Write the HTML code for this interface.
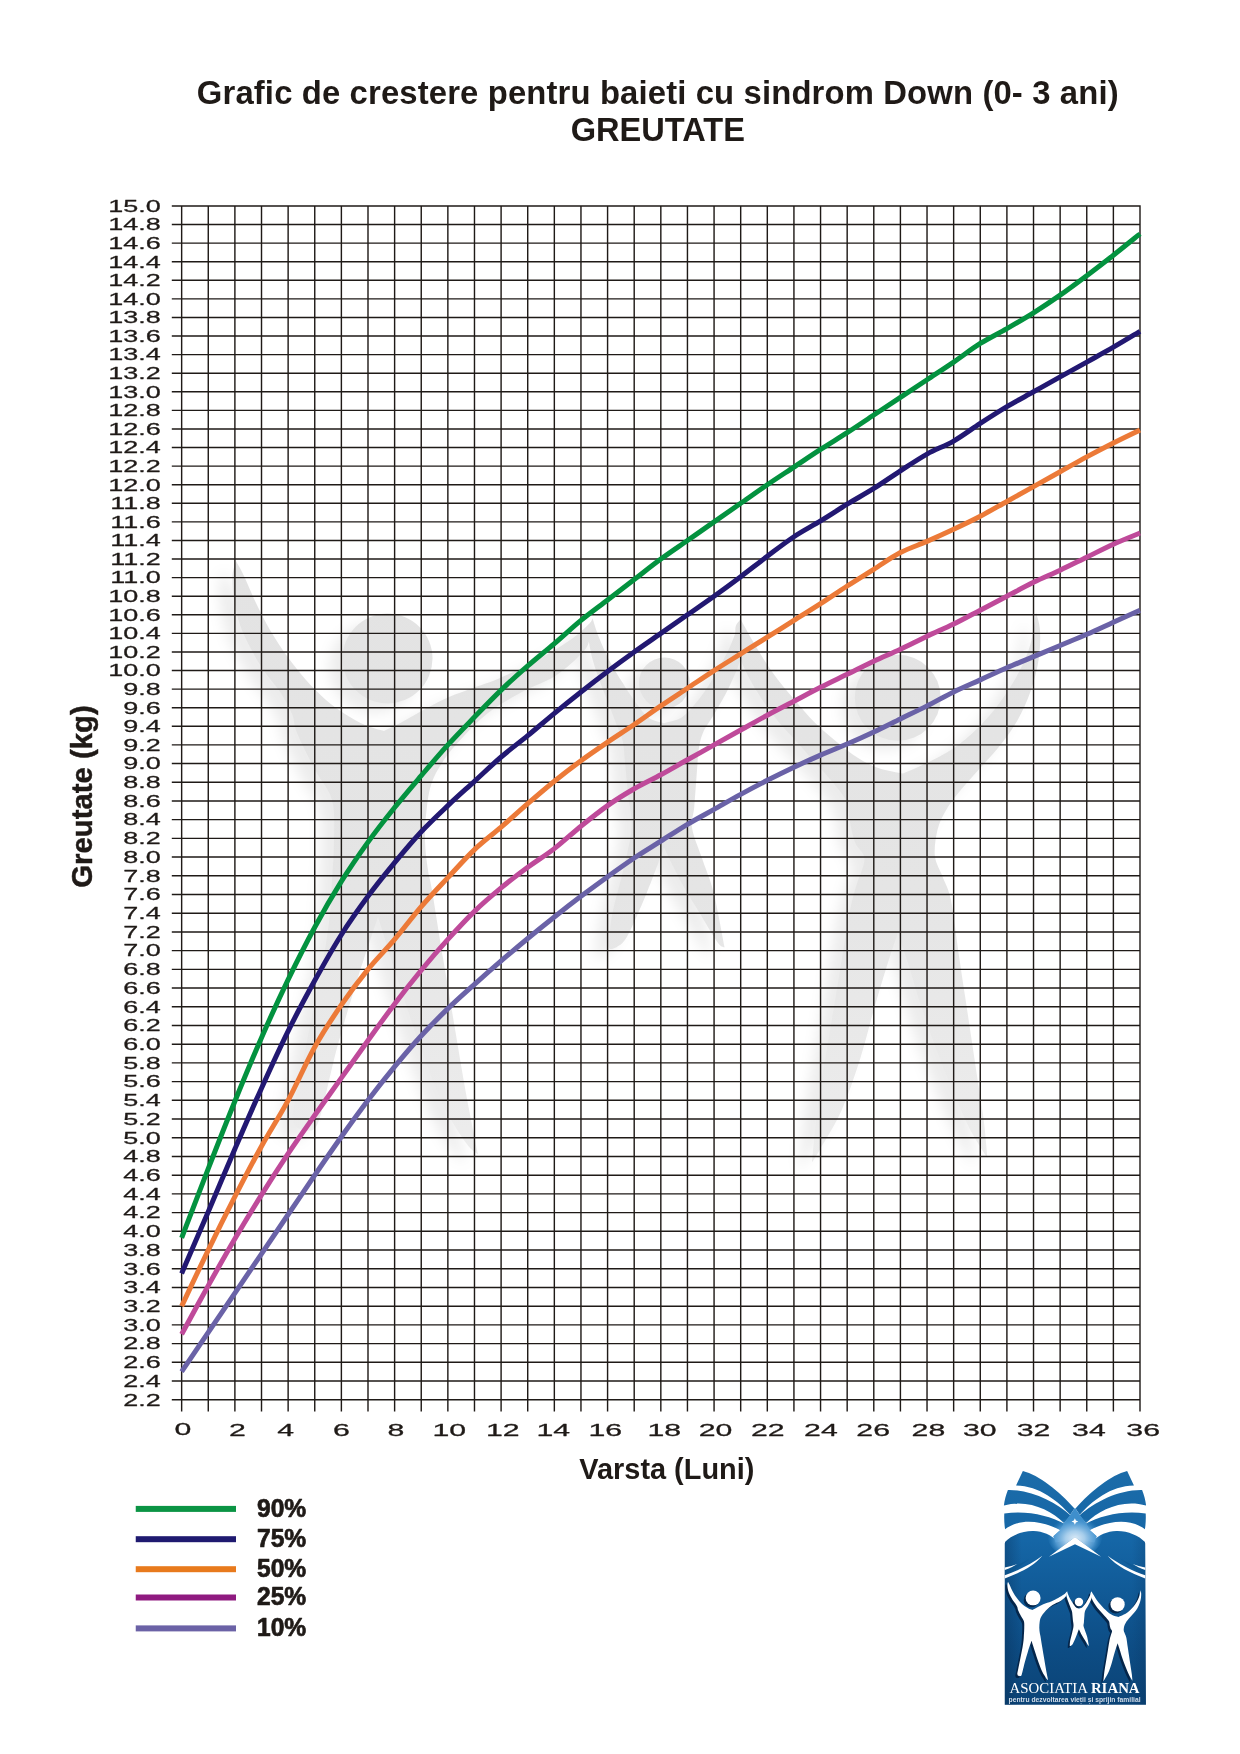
<!DOCTYPE html>
<html lang="ro">
<head>
<meta charset="utf-8">
<title>Grafic de crestere pentru baieti cu sindrom Down (0-3 ani) - GREUTATE</title>
<style>
html,body{margin:0;padding:0;background:#fff;}
body{width:1240px;height:1754px;overflow:hidden;font-family:"Liberation Sans",sans-serif;}
svg{display:block;position:absolute;left:0;top:0;will-change:transform;}
svg text{font-family:"Liberation Sans",sans-serif;fill:#1f1a17;}
.b{font-weight:bold;}
</style>
</head>
<body>
<svg width="1240" height="1754" viewBox="0 0 1240 1754">
<rect width="1240" height="1754" fill="#fff"/>
<!-- watermark figures -->
<defs>
<g id="figs">
<path d="M236.0 561.0C237.3 563.5 240.7 569.0 244.0 576.0C247.3 583.0 251.7 594.0 256.0 603.0C260.3 612.0 264.8 621.2 270.0 630.0C275.2 638.8 281.0 647.7 287.0 656.0C293.0 664.3 299.5 672.7 306.0 680.0C312.5 687.3 319.5 694.3 326.0 700.0C332.5 705.7 338.5 709.8 345.0 714.0C351.5 718.2 358.5 722.2 365.0 725.0C371.5 727.8 380.8 730.0 384.0 731.0C387.2 729.4 396.2 725.2 403.0 721.5C409.8 717.8 417.3 713.1 425.0 709.0C432.7 704.9 441.0 700.5 449.0 697.0C457.0 693.5 464.5 691.2 473.0 688.0C481.5 684.8 489.0 682.8 500.0 678.0C511.0 673.2 526.8 665.7 539.0 659.0C551.2 652.3 564.0 644.5 573.0 638.0C582.0 631.5 589.7 623.0 593.0 620.0C592.5 623.0 591.7 632.7 590.0 638.0C588.3 643.3 588.7 645.8 583.0 652.0C577.3 658.2 566.2 668.8 556.0 675.5C545.8 682.2 533.3 685.8 522.0 692.0C510.7 698.2 498.8 704.5 488.0 713.0C477.2 721.5 465.2 734.7 457.5 743.0C449.8 751.3 446.2 756.5 442.0 763.0C437.8 769.5 434.5 774.8 432.0 782.0C429.5 789.2 428.2 796.3 427.0 806.0C425.8 815.7 424.8 829.3 425.0 840.0C425.2 850.7 426.8 861.7 428.0 870.0C429.2 878.3 429.5 875.3 432.0 890.0C434.5 904.7 439.2 935.3 443.0 958.0C446.8 980.7 450.7 1003.4 454.5 1026.0C458.3 1048.6 462.1 1072.1 466.0 1093.5C469.9 1114.9 476.0 1144.3 478.0 1154.5C476.0 1152.6 471.8 1151.2 466.0 1143.0C460.2 1134.8 450.6 1120.8 443.0 1105.0C435.4 1089.2 428.1 1068.7 420.6 1048.0C413.1 1027.3 405.1 1002.4 398.0 980.6C390.9 958.8 381.3 927.6 378.0 917.0C374.5 927.6 363.8 958.8 357.0 980.6C350.2 1002.4 343.3 1024.7 337.0 1048.0C330.7 1071.3 323.8 1106.8 319.0 1120.6C314.2 1134.4 309.8 1129.3 308.0 1131.0C306.0 1130.3 298.7 1129.5 296.0 1127.0C293.3 1124.5 292.7 1117.8 292.0 1116.0C293.8 1106.7 299.2 1078.8 303.0 1060.0C306.8 1041.2 311.0 1020.5 314.5 1003.0C318.0 985.5 321.4 970.0 324.0 955.0C326.6 940.0 328.7 925.5 330.0 913.0C331.3 900.5 331.3 892.2 332.0 880.0C332.7 867.8 334.0 853.3 334.0 840.0C334.0 826.7 335.2 811.7 332.0 800.0C328.8 788.3 320.8 781.2 315.0 770.0C309.2 758.8 300.8 742.3 297.0 733.0C293.2 723.7 294.8 720.8 292.0 714.0C289.2 707.2 284.7 699.2 280.0 692.0C275.3 684.8 268.8 678.2 264.0 671.0C259.2 663.8 255.0 656.7 251.0 649.0C247.0 641.3 242.8 633.2 240.0 625.0C237.2 616.8 235.2 608.2 234.0 600.0C232.8 591.8 232.2 582.5 232.5 576.0C232.8 569.5 235.4 563.5 236.0 561.0Z"/>
<circle cx="387.5" cy="658.5" r="45"/>
<path d="M592.5 618.2C593.6 621.4 596.1 630.4 599.0 637.6C601.9 644.8 605.8 653.9 609.8 661.5C613.8 669.1 618.5 676.2 622.8 683.1C627.1 690.0 631.5 696.8 635.8 702.6C640.1 708.4 644.1 714.4 648.8 717.8C653.5 721.2 661.5 722.3 664.0 723.2C666.9 722.3 676.2 720.9 681.3 717.8C686.3 714.7 690.0 709.8 694.3 704.8C698.6 699.8 703.0 694.0 707.3 687.5C711.6 681.0 716.3 673.0 720.3 665.8C724.3 658.6 727.9 651.7 731.1 644.1C734.4 636.5 738.3 624.3 739.8 620.3C740.5 623.2 744.1 630.7 744.1 637.6C744.1 644.5 742.3 653.2 739.8 661.5C737.3 669.8 732.9 679.2 728.9 687.5C724.9 695.8 720.2 703.7 715.9 711.3C711.6 718.9 705.8 726.4 702.9 732.9C700.0 739.4 699.5 745.2 698.6 750.3C697.7 755.4 698.2 753.9 697.5 763.3C696.8 772.7 695.2 795.8 694.3 806.6C693.4 817.4 690.7 819.2 692.1 828.2C693.5 837.2 699.3 849.9 702.9 860.7C706.5 871.5 710.2 878.8 713.8 893.2C717.4 907.7 722.8 938.4 724.6 947.4C723.5 946.7 722.0 948.4 718.0 943.0C714.0 937.6 706.9 925.0 700.8 914.9C694.7 904.8 687.4 893.6 681.3 882.4C675.2 871.2 666.9 853.5 664.0 847.7C661.1 855.3 652.8 878.4 646.6 893.2C640.5 908.0 632.2 927.5 627.1 936.5C622.0 945.5 618.1 945.6 616.3 947.4C615.2 947.7 611.3 949.4 610.0 949.0C608.7 948.6 608.9 945.8 608.7 945.2C609.2 940.2 609.6 927.2 612.0 914.9C614.4 902.6 619.5 886.0 622.8 871.6C626.0 857.2 630.6 841.0 631.5 828.2C632.4 815.4 629.1 805.8 628.0 795.0C626.9 784.2 625.9 772.2 625.0 763.3C624.1 754.4 624.2 748.1 622.8 741.6C621.3 735.1 618.5 730.1 616.3 724.3C614.1 718.5 612.3 713.5 609.8 707.0C607.3 700.5 604.1 693.2 601.2 685.3C598.3 677.3 594.7 668.0 592.5 659.3C590.3 650.6 588.2 640.1 588.2 633.3C588.2 626.4 591.8 620.7 592.5 618.2Z"/>
<circle cx="664.4" cy="683.1" r="25.5"/>
<path d="M740.6 619.3C742.8 623.3 748.7 634.3 754.0 643.2C759.3 652.1 766.0 663.2 772.6 672.5C779.2 681.8 786.8 690.7 793.9 699.1C801.0 707.5 808.1 716.0 815.2 723.1C822.3 730.2 829.4 735.9 836.5 741.7C843.6 747.5 850.6 753.3 857.7 757.7C864.8 762.1 871.5 765.6 879.0 768.3C886.5 770.9 899.0 772.7 903.0 773.6C907.9 771.4 923.0 765.2 932.3 760.3C941.6 755.4 950.5 750.6 958.9 744.4C967.3 738.2 975.3 731.1 982.8 723.1C990.3 715.1 997.9 705.4 1004.1 696.5C1010.3 687.6 1015.7 678.7 1020.1 669.8C1024.5 660.9 1028.0 652.7 1030.7 643.2C1033.4 633.7 1035.1 617.7 1036.0 612.6C1036.7 615.5 1039.5 622.1 1040.0 629.9C1040.5 637.7 1040.2 649.0 1038.7 659.2C1037.2 669.4 1034.2 680.9 1030.7 691.1C1027.2 701.3 1022.7 711.1 1017.4 720.4C1012.1 729.7 1005.4 738.6 998.8 747.0C992.1 755.4 984.1 763.5 977.5 771.0C970.9 778.5 964.2 785.6 958.9 792.3C953.6 798.9 949.1 804.7 945.6 810.9C942.1 817.1 939.4 822.0 937.6 829.5C935.8 837.0 934.0 848.1 934.9 856.1C935.8 864.1 940.2 870.1 942.9 877.4C945.6 884.7 948.3 887.2 950.9 900.0C953.5 912.8 956.4 937.9 958.7 953.9C961.1 969.9 962.9 981.8 965.0 995.8C967.1 1009.8 969.2 1023.8 971.3 1037.8C973.4 1051.8 975.5 1065.7 977.6 1079.7C979.7 1093.7 982.3 1108.5 983.9 1121.6C985.5 1134.7 986.8 1152.2 987.4 1158.3C984.4 1153.2 975.0 1139.2 969.2 1127.9C963.4 1116.6 958.0 1103.5 952.4 1090.2C946.8 1076.9 940.9 1062.2 935.7 1048.2C930.5 1034.2 925.5 1020.3 921.0 1006.3C916.5 992.3 912.2 976.6 908.4 964.4C904.5 952.2 899.6 938.1 897.9 932.9C896.1 938.1 891.2 952.2 887.4 964.4C883.5 976.6 879.3 990.6 874.8 1006.3C870.3 1022.0 865.8 1041.2 860.2 1058.7C854.6 1076.2 847.9 1096.1 841.3 1111.1C834.6 1126.1 825.2 1140.3 820.3 1148.9C815.4 1157.5 813.3 1160.2 811.9 1162.5C813.0 1152.2 815.4 1121.5 818.2 1100.7C821.0 1079.9 825.2 1058.8 828.7 1037.8C832.2 1016.8 835.7 995.8 839.2 974.8C842.7 953.8 846.8 926.9 849.7 911.9C852.6 896.9 854.0 893.9 856.5 885.0C859.0 876.1 864.6 865.8 864.4 858.8C864.2 851.8 857.5 849.0 855.1 842.8C852.7 836.6 851.1 828.1 849.8 821.5C848.5 814.9 849.3 808.7 847.1 802.9C844.9 797.1 841.4 793.1 836.5 786.9C831.6 780.7 824.5 773.1 817.8 765.6C811.1 758.1 803.6 749.7 796.5 741.7C789.4 733.7 781.9 726.1 775.2 717.7C768.6 709.3 762.4 700.9 756.6 691.1C750.8 681.4 744.2 669.4 740.6 659.2C737.0 649.0 735.3 636.5 735.3 629.9C735.3 623.2 739.7 621.1 740.6 619.3Z"/>
<circle cx="897.7" cy="697.8" r="43"/>
</g>
<linearGradient id="wmfade" gradientUnits="userSpaceOnUse" x1="0" y1="560" x2="0" y2="1165"><stop offset="0" stop-color="#e3e3e3"/><stop offset="0.55" stop-color="#e5e5e5"/><stop offset="1" stop-color="#ededed"/></linearGradient>
<filter id="wmshadow" x="150" y="500" width="960" height="720" filterUnits="userSpaceOnUse" color-interpolation-filters="sRGB"><feGaussianBlur in="SourceAlpha" stdDeviation="6.5"/><feOffset dx="-13" dy="9" result="b"/><feFlood flood-color="#000" flood-opacity="0.075"/><feComposite in2="b" operator="in"/><feMerge><feMergeNode/><feMergeNode in="SourceGraphic"/></feMerge></filter>
</defs>
<use href="#figs" fill="url(#wmfade)" filter="url(#wmshadow)"/>
<!-- grid -->
<path d="M171.8 205.95H1140.65M171.8 224.53H1140.65M171.8 243.12H1140.65M171.8 261.70H1140.65M171.8 280.29H1140.65M171.8 298.88H1140.65M171.8 317.46H1140.65M171.8 336.04H1140.65M171.8 354.63H1140.65M171.8 373.22H1140.65M171.8 391.80H1140.65M171.8 410.38H1140.65M171.8 428.97H1140.65M171.8 447.56H1140.65M171.8 466.14H1140.65M171.8 484.73H1140.65M171.8 503.31H1140.65M171.8 521.89H1140.65M171.8 540.48H1140.65M171.8 559.07H1140.65M171.8 577.65H1140.65M171.8 596.24H1140.65M171.8 614.82H1140.65M171.8 633.40H1140.65M171.8 651.99H1140.65M171.8 670.58H1140.65M171.8 689.16H1140.65M171.8 707.75H1140.65M171.8 726.33H1140.65M171.8 744.91H1140.65M171.8 763.50H1140.65M171.8 782.21H1140.65M171.8 800.93H1140.65M171.8 819.64H1140.65M171.8 838.35H1140.65M171.8 857.07H1140.65M171.8 875.78H1140.65M171.8 894.49H1140.65M171.8 913.20H1140.65M171.8 931.92H1140.65M171.8 950.63H1140.65M171.8 969.34H1140.65M171.8 988.06H1140.65M171.8 1006.77H1140.65M171.8 1025.48H1140.65M171.8 1044.19H1140.65M171.8 1062.91H1140.65M171.8 1081.62H1140.65M171.8 1100.33H1140.65M171.8 1119.05H1140.65M171.8 1137.76H1140.65M171.8 1156.47H1140.65M171.8 1175.19H1140.65M171.8 1193.90H1140.65M171.8 1212.61H1140.65M171.8 1231.33H1140.65M171.8 1250.04H1140.65M171.8 1268.75H1140.65M171.8 1287.46H1140.65M171.8 1306.18H1140.65M171.8 1324.89H1140.65M171.8 1343.60H1140.65M171.8 1362.32H1140.65M171.8 1381.03H1140.65M171.8 1399.74H1140.65M181.65 205.30V1411.6M208.27 205.30V1411.6M234.89 205.30V1411.6M261.51 205.30V1411.6M288.13 205.30V1411.6M314.75 205.30V1411.6M341.38 205.30V1411.6M368.00 205.30V1411.6M394.62 205.30V1411.6M421.24 205.30V1411.6M447.86 205.30V1411.6M474.48 205.30V1411.6M501.10 205.30V1411.6M527.72 205.30V1411.6M554.34 205.30V1411.6M580.96 205.30V1411.6M607.58 205.30V1411.6M634.20 205.30V1411.6M660.83 205.30V1411.6M687.45 205.30V1411.6M714.07 205.30V1411.6M740.69 205.30V1411.6M767.31 205.30V1411.6M793.93 205.30V1411.6M820.55 205.30V1411.6M847.17 205.30V1411.6M873.79 205.30V1411.6M900.41 205.30V1411.6M927.03 205.30V1411.6M953.65 205.30V1411.6M980.27 205.30V1411.6M1006.90 205.30V1411.6M1033.52 205.30V1411.6M1060.14 205.30V1411.6M1086.76 205.30V1411.6M1113.38 205.30V1411.6M1140.00 205.30V1411.6" fill="none" stroke="#1f1a17" stroke-width="1.42"/>
<!-- percentile curves -->
<g fill="none" stroke-width="5.0" stroke-linecap="butt" stroke-linejoin="round">
<path d="M181.65 1371.67C186.09 1365.12 199.40 1345.47 208.27 1332.38C217.14 1319.28 226.02 1306.18 234.89 1293.08C243.77 1279.98 252.64 1266.88 261.51 1253.78C270.39 1240.68 279.26 1227.58 288.13 1214.48C297.01 1201.38 305.88 1188.13 314.75 1175.19C323.63 1162.24 332.50 1149.30 341.38 1136.82C350.25 1124.35 359.12 1112.03 368.00 1100.33C376.87 1088.64 385.74 1077.41 394.62 1066.65C403.49 1055.89 412.36 1045.44 421.24 1035.77C430.11 1026.11 438.98 1017.22 447.86 1008.64C456.73 1000.06 465.61 992.27 474.48 984.31C483.35 976.36 492.23 968.56 501.10 960.92C509.97 953.28 518.85 945.80 527.72 938.47C536.59 931.14 545.47 923.96 554.34 916.95C563.22 909.93 572.09 903.07 580.96 896.36C589.84 889.66 598.71 883.11 607.58 876.71C616.46 870.32 625.33 863.93 634.20 858.00C643.08 852.07 651.95 846.77 660.83 841.16C669.70 835.55 678.57 829.62 687.45 824.32C696.32 819.02 705.19 814.34 714.07 809.35C722.94 804.36 731.81 799.21 740.69 794.38C749.56 789.54 758.43 784.86 767.31 780.34C776.18 775.82 785.06 771.44 793.93 767.24C802.80 763.04 811.68 759.01 820.55 755.14C829.42 751.26 838.30 747.86 847.17 743.99C856.04 740.11 864.92 736.09 873.79 731.91C882.67 727.72 891.54 723.23 900.41 718.90C909.29 714.56 918.16 710.38 927.03 705.89C935.91 701.40 944.78 696.28 953.65 691.95C962.53 687.61 971.40 683.89 980.27 679.87C989.15 675.84 998.02 671.66 1006.90 667.79C1015.77 663.92 1024.64 660.35 1033.52 656.64C1042.39 652.92 1051.26 649.20 1060.14 645.49C1069.01 641.77 1077.88 638.21 1086.76 634.33C1095.63 630.46 1104.51 626.28 1113.38 622.25C1122.25 618.23 1135.56 612.19 1140.00 610.17" stroke="#6a62a7"/>
<path d="M181.65 1334.25C186.09 1326.14 199.40 1301.50 208.27 1285.59C217.14 1269.69 226.02 1253.94 234.89 1238.81C243.77 1223.68 252.64 1209.03 261.51 1194.83C270.39 1180.64 279.26 1166.92 288.13 1153.67C297.01 1140.41 305.88 1127.94 314.75 1115.30C323.63 1102.67 332.50 1090.35 341.38 1077.88C350.25 1065.40 359.12 1052.77 368.00 1040.45C376.87 1028.13 385.74 1015.66 394.62 1003.96C403.49 992.27 412.36 981.04 421.24 970.28C430.11 959.52 438.98 949.23 447.86 939.40C456.73 929.58 465.61 919.91 474.48 911.33C483.35 902.76 492.23 895.27 501.10 887.94C509.97 880.61 518.85 873.91 527.72 867.36C536.59 860.81 545.47 855.51 554.34 848.64C563.22 841.78 572.09 833.36 580.96 826.19C589.84 819.02 598.71 811.84 607.58 805.60C616.46 799.37 625.33 793.91 634.20 788.76C643.08 783.62 651.95 779.56 660.83 774.73C669.70 769.90 678.57 764.75 687.45 759.78C696.32 754.81 705.19 749.87 714.07 744.92C722.94 739.96 731.81 735.00 740.69 730.05C749.56 725.09 758.43 719.98 767.31 715.18C776.18 710.38 785.06 705.89 793.93 701.24C802.80 696.59 811.68 691.79 820.55 687.30C829.42 682.81 838.30 678.63 847.17 674.29C856.04 669.96 864.92 665.46 873.79 661.28C882.67 657.10 891.54 653.38 900.41 649.20C909.29 645.02 918.16 640.37 927.03 636.19C935.91 632.01 944.78 628.45 953.65 624.11C962.53 619.78 971.40 614.82 980.27 610.17C989.15 605.53 998.02 600.88 1006.90 596.23C1015.77 591.59 1024.64 586.63 1033.52 582.30C1042.39 577.96 1051.26 574.40 1060.14 570.22C1069.01 566.03 1077.88 561.54 1086.76 557.21C1095.63 552.87 1104.51 548.22 1113.38 544.20C1122.25 540.17 1135.56 534.90 1140.00 533.05" stroke="#bf4a9a"/>
<path d="M181.65 1306.18C186.09 1296.82 199.40 1268.28 208.27 1250.04C217.14 1231.79 226.02 1214.02 234.89 1196.71C243.77 1179.40 252.64 1162.24 261.51 1146.18C270.39 1130.12 279.26 1116.86 288.13 1100.33C297.01 1083.80 305.88 1062.91 314.75 1047.00C323.63 1031.10 332.50 1017.84 341.38 1004.90C350.25 991.95 359.12 980.26 368.00 969.34C376.87 958.43 385.74 949.85 394.62 939.40C403.49 928.95 412.36 916.95 421.24 906.65C430.11 896.36 438.98 887.16 447.86 877.65C456.73 868.14 465.61 858.00 474.48 849.58C483.35 841.16 492.23 834.77 501.10 827.12C509.97 819.48 518.85 811.37 527.72 803.73C536.59 796.09 545.47 788.45 554.34 781.28C563.22 774.11 572.09 767.24 580.96 760.71C589.84 754.19 598.71 748.17 607.58 742.13C616.46 736.09 625.33 730.51 634.20 724.47C643.08 718.43 651.95 711.93 660.83 705.89C669.70 699.85 678.57 694.12 687.45 688.23C696.32 682.35 705.19 676.31 714.07 670.58C722.94 664.84 731.81 659.42 740.69 653.85C749.56 648.27 758.43 642.70 767.31 637.12C776.18 631.55 785.06 625.97 793.93 620.40C802.80 614.82 811.68 609.40 820.55 603.67C829.42 597.94 838.30 591.74 847.17 586.01C856.04 580.28 864.92 574.86 873.79 569.29C882.67 563.71 891.54 557.21 900.41 552.56C909.29 547.91 918.16 545.28 927.03 541.41C935.91 537.54 944.78 533.51 953.65 529.33C962.53 525.15 971.40 520.97 980.27 516.32C989.15 511.67 998.02 506.41 1006.90 501.45C1015.77 496.50 1024.64 491.54 1033.52 486.58C1042.39 481.63 1051.26 476.67 1060.14 471.72C1069.01 466.76 1077.88 461.65 1086.76 456.85C1095.63 452.05 1104.51 447.40 1113.38 442.91C1122.25 438.42 1135.56 432.07 1140.00 429.90" stroke="#ec7a38"/>
<path d="M181.65 1273.43C186.09 1263.14 199.40 1232.42 208.27 1211.68C217.14 1190.94 226.02 1169.57 234.89 1148.99C243.77 1128.40 252.64 1107.82 261.51 1088.17C270.39 1068.52 279.26 1049.03 288.13 1031.10C297.01 1013.16 305.88 996.63 314.75 980.57C323.63 964.51 332.50 948.76 341.38 934.72C350.25 920.69 359.12 908.37 368.00 896.36C376.87 884.35 385.74 873.44 394.62 862.68C403.49 851.92 412.36 841.31 421.24 831.80C430.11 822.29 438.98 814.03 447.86 805.60C456.73 797.18 465.61 789.38 474.48 781.28C483.35 773.18 492.23 764.60 501.10 757.00C509.97 749.39 518.85 742.90 527.72 735.62C536.59 728.34 545.47 720.60 554.34 713.32C563.22 706.04 572.09 698.92 580.96 691.95C589.84 684.98 598.71 678.16 607.58 671.50C616.46 664.84 625.33 658.34 634.20 651.99C643.08 645.64 651.95 639.60 660.83 633.40C669.70 627.21 678.57 621.01 687.45 614.82C696.32 608.62 705.19 602.58 714.07 596.23C722.94 589.89 731.81 583.38 740.69 576.72C749.56 570.06 758.43 562.94 767.31 556.28C776.18 549.62 785.06 542.65 793.93 536.76C802.80 530.88 811.68 526.39 820.55 520.97C829.42 515.55 838.30 509.66 847.17 504.24C856.04 498.82 864.92 494.02 873.79 488.44C882.67 482.87 891.54 476.52 900.41 470.79C909.29 465.06 918.16 459.02 927.03 454.06C935.91 449.10 944.78 446.16 953.65 441.05C962.53 435.94 971.40 429.12 980.27 423.39C989.15 417.66 998.02 411.93 1006.90 406.67C1015.77 401.40 1024.64 396.76 1033.52 391.80C1042.39 386.84 1051.26 381.89 1060.14 376.93C1069.01 371.98 1077.88 367.02 1086.76 362.06C1095.63 357.11 1104.51 352.31 1113.38 347.20C1122.25 342.09 1135.56 334.03 1140.00 331.40" stroke="#221872"/>
<path d="M181.65 1237.87C186.09 1226.33 199.40 1191.40 208.27 1168.64C217.14 1145.87 226.02 1123.10 234.89 1101.27C243.77 1079.44 252.64 1057.92 261.51 1037.65C270.39 1017.37 279.26 998.04 288.13 979.64C297.01 961.23 305.88 943.61 314.75 927.24C323.63 910.86 332.50 895.58 341.38 881.39C350.25 867.20 359.12 854.41 368.00 842.09C376.87 829.78 385.74 818.55 394.62 807.48C403.49 796.40 412.36 786.09 421.24 775.66C430.11 765.24 438.98 754.69 447.86 744.92C456.73 735.14 465.61 726.18 474.48 717.04C483.35 707.90 492.23 698.61 501.10 690.09C509.97 681.57 518.85 673.67 527.72 665.93C536.59 658.18 545.47 651.22 554.34 643.63C563.22 636.04 572.09 627.67 580.96 620.40C589.84 613.12 598.71 606.77 607.58 599.95C616.46 593.14 625.33 586.32 634.20 579.51C643.08 572.69 651.95 565.57 660.83 559.07C669.70 552.56 678.57 546.68 687.45 540.48C696.32 534.28 705.19 528.09 714.07 521.89C722.94 515.70 731.81 509.50 740.69 503.31C749.56 497.11 758.43 490.77 767.31 484.73C776.18 478.68 785.06 472.95 793.93 467.07C802.80 461.18 811.68 455.14 820.55 449.41C829.42 443.68 838.30 438.42 847.17 432.69C856.04 426.96 864.92 420.92 873.79 415.03C882.67 409.15 891.54 403.26 900.41 397.38C909.29 391.49 918.16 385.60 927.03 379.72C935.91 373.83 944.78 368.10 953.65 362.06C962.53 356.02 971.40 349.05 980.27 343.48C989.15 337.90 998.02 333.72 1006.90 328.61C1015.77 323.50 1024.64 318.39 1033.52 312.81C1042.39 307.24 1051.26 301.35 1060.14 295.16C1069.01 288.96 1077.88 282.30 1086.76 275.64C1095.63 268.98 1104.51 262.17 1113.38 255.20C1122.25 248.23 1135.56 237.39 1140.00 233.83" stroke="#03923f"/>
</g>
<!-- y axis tick labels -->
<g font-size="17.2" text-anchor="end" stroke="#1f1a17" stroke-width="0.28" stroke-linejoin="round">
<text transform="translate(160.80 211.75) scale(1.57 1)">15.0</text>
<text transform="translate(160.80 230.34) scale(1.57 1)">14.8</text>
<text transform="translate(160.80 248.92) scale(1.57 1)">14.6</text>
<text transform="translate(160.80 267.50) scale(1.57 1)">14.4</text>
<text transform="translate(160.80 286.09) scale(1.57 1)">14.2</text>
<text transform="translate(160.80 304.68) scale(1.57 1)">14.0</text>
<text transform="translate(160.80 323.26) scale(1.57 1)">13.8</text>
<text transform="translate(160.80 341.84) scale(1.57 1)">13.6</text>
<text transform="translate(160.80 360.43) scale(1.57 1)">13.4</text>
<text transform="translate(160.80 379.02) scale(1.57 1)">13.2</text>
<text transform="translate(160.80 397.60) scale(1.57 1)">13.0</text>
<text transform="translate(160.80 416.19) scale(1.57 1)">12.8</text>
<text transform="translate(160.80 434.77) scale(1.57 1)">12.6</text>
<text transform="translate(160.80 453.36) scale(1.57 1)">12.4</text>
<text transform="translate(160.80 471.94) scale(1.57 1)">12.2</text>
<text transform="translate(160.80 490.53) scale(1.57 1)">12.0</text>
<text transform="translate(160.80 509.11) scale(1.57 1)">11.8</text>
<text transform="translate(160.80 527.69) scale(1.57 1)">11.6</text>
<text transform="translate(160.80 546.28) scale(1.57 1)">11.4</text>
<text transform="translate(160.80 564.87) scale(1.57 1)">11.2</text>
<text transform="translate(160.80 583.45) scale(1.57 1)">11.0</text>
<text transform="translate(160.80 602.03) scale(1.57 1)">10.8</text>
<text transform="translate(160.80 620.62) scale(1.57 1)">10.6</text>
<text transform="translate(160.80 639.20) scale(1.57 1)">10.4</text>
<text transform="translate(160.80 657.79) scale(1.57 1)">10.2</text>
<text transform="translate(160.80 676.38) scale(1.57 1)">10.0</text>
<text transform="translate(160.80 694.96) scale(1.57 1)">9.8</text>
<text transform="translate(160.80 713.54) scale(1.57 1)">9.6</text>
<text transform="translate(160.80 732.13) scale(1.57 1)">9.4</text>
<text transform="translate(160.80 750.71) scale(1.57 1)">9.2</text>
<text transform="translate(160.80 769.30) scale(1.57 1)">9.0</text>
<text transform="translate(160.80 788.01) scale(1.57 1)">8.8</text>
<text transform="translate(160.80 806.73) scale(1.57 1)">8.6</text>
<text transform="translate(160.80 825.44) scale(1.57 1)">8.4</text>
<text transform="translate(160.80 844.15) scale(1.57 1)">8.2</text>
<text transform="translate(160.80 862.87) scale(1.57 1)">8.0</text>
<text transform="translate(160.80 881.58) scale(1.57 1)">7.8</text>
<text transform="translate(160.80 900.29) scale(1.57 1)">7.6</text>
<text transform="translate(160.80 919.00) scale(1.57 1)">7.4</text>
<text transform="translate(160.80 937.72) scale(1.57 1)">7.2</text>
<text transform="translate(160.80 956.43) scale(1.57 1)">7.0</text>
<text transform="translate(160.80 975.14) scale(1.57 1)">6.8</text>
<text transform="translate(160.80 993.86) scale(1.57 1)">6.6</text>
<text transform="translate(160.80 1012.57) scale(1.57 1)">6.4</text>
<text transform="translate(160.80 1031.28) scale(1.57 1)">6.2</text>
<text transform="translate(160.80 1049.99) scale(1.57 1)">6.0</text>
<text transform="translate(160.80 1068.71) scale(1.57 1)">5.8</text>
<text transform="translate(160.80 1087.42) scale(1.57 1)">5.6</text>
<text transform="translate(160.80 1106.13) scale(1.57 1)">5.4</text>
<text transform="translate(160.80 1124.85) scale(1.57 1)">5.2</text>
<text transform="translate(160.80 1143.56) scale(1.57 1)">5.0</text>
<text transform="translate(160.80 1162.27) scale(1.57 1)">4.8</text>
<text transform="translate(160.80 1180.99) scale(1.57 1)">4.6</text>
<text transform="translate(160.80 1199.70) scale(1.57 1)">4.4</text>
<text transform="translate(160.80 1218.41) scale(1.57 1)">4.2</text>
<text transform="translate(160.80 1237.12) scale(1.57 1)">4.0</text>
<text transform="translate(160.80 1255.84) scale(1.57 1)">3.8</text>
<text transform="translate(160.80 1274.55) scale(1.57 1)">3.6</text>
<text transform="translate(160.80 1293.26) scale(1.57 1)">3.4</text>
<text transform="translate(160.80 1311.98) scale(1.57 1)">3.2</text>
<text transform="translate(160.80 1330.69) scale(1.57 1)">3.0</text>
<text transform="translate(160.80 1349.40) scale(1.57 1)">2.8</text>
<text transform="translate(160.80 1368.12) scale(1.57 1)">2.6</text>
<text transform="translate(160.80 1386.83) scale(1.57 1)">2.4</text>
<text transform="translate(160.80 1405.54) scale(1.57 1)">2.2</text>
</g>
<!-- x axis tick labels -->
<g font-size="17.2" text-anchor="middle" stroke="#1f1a17" stroke-width="0.28" stroke-linejoin="round">
<text transform="translate(182.90 1435.10) scale(1.76 1)">0</text>
<text transform="translate(237.40 1436.10) scale(1.76 1)">2</text>
<text transform="translate(285.60 1436.10) scale(1.76 1)">4</text>
<text transform="translate(341.40 1436.10) scale(1.76 1)">6</text>
<text transform="translate(395.80 1436.10) scale(1.76 1)">8</text>
<text transform="translate(449.30 1436.10) scale(1.76 1)">10</text>
<text transform="translate(502.80 1436.10) scale(1.76 1)">12</text>
<text transform="translate(553.30 1436.10) scale(1.76 1)">14</text>
<text transform="translate(605.30 1436.10) scale(1.76 1)">16</text>
<text transform="translate(664.30 1436.10) scale(1.76 1)">18</text>
<text transform="translate(715.50 1436.10) scale(1.76 1)">20</text>
<text transform="translate(767.80 1436.10) scale(1.76 1)">22</text>
<text transform="translate(820.90 1436.10) scale(1.76 1)">24</text>
<text transform="translate(873.20 1436.10) scale(1.76 1)">26</text>
<text transform="translate(928.40 1436.10) scale(1.76 1)">28</text>
<text transform="translate(979.80 1436.10) scale(1.76 1)">30</text>
<text transform="translate(1033.60 1436.10) scale(1.76 1)">32</text>
<text transform="translate(1088.90 1436.10) scale(1.76 1)">34</text>
<text transform="translate(1143.20 1436.10) scale(1.76 1)">36</text>
</g>
<!-- titles -->
<text class="b" x="657.8" y="104.2" font-size="32.8" letter-spacing="0.15" text-anchor="middle">Grafic de crestere pentru baieti cu sindrom Down (0- 3 ani)</text>
<text class="b" x="657.8" y="140.5" font-size="32.6" text-anchor="middle">GREUTATE</text>
<text class="b" transform="translate(91.7 796.5) rotate(-90) scale(1 1.02)" font-size="29.35" text-anchor="middle" stroke="#1f1a17" stroke-width="0.45" stroke-linejoin="round">Greutate (kg)</text>
<text class="b" x="666.85" y="1479.3" font-size="28.9" text-anchor="middle">Varsta (Luni)</text>
<!-- legend -->
<rect x="135.75" y="1505.90" width="100.25" height="6.0" fill="#0b9444"/>
<text class="b" transform="translate(257.0 1516.80) scale(1 1.035)" font-size="24.6" stroke="#1f1a17" stroke-width="0.7" stroke-linejoin="round">90%</text>
<rect x="135.75" y="1536.20" width="100.25" height="6.0" fill="#1f1a70"/>
<text class="b" transform="translate(257.0 1547.10) scale(1 1.035)" font-size="24.6" stroke="#1f1a17" stroke-width="0.7" stroke-linejoin="round">75%</text>
<rect x="135.75" y="1566.20" width="100.25" height="6.0" fill="#e87a1d"/>
<text class="b" transform="translate(257.0 1577.10) scale(1 1.035)" font-size="24.6" stroke="#1f1a17" stroke-width="0.7" stroke-linejoin="round">50%</text>
<rect x="135.75" y="1594.50" width="100.25" height="6.0" fill="#8f1a80"/>
<text class="b" transform="translate(257.0 1605.40) scale(1 1.035)" font-size="24.6" stroke="#1f1a17" stroke-width="0.7" stroke-linejoin="round">25%</text>
<rect x="135.75" y="1625.40" width="100.25" height="6.0" fill="#6b62a6"/>
<text class="b" transform="translate(257.0 1636.30) scale(1 1.035)" font-size="24.6" stroke="#1f1a17" stroke-width="0.7" stroke-linejoin="round">10%</text>
<!-- logo -->
<defs>
<linearGradient id="lgBlue" gradientUnits="userSpaceOnUse" x1="0" y1="80" x2="0" y2="1897"><stop offset="0" stop-color="#1c6ca9"/><stop offset="0.3" stop-color="#1566a6"/><stop offset="0.5" stop-color="#115b98"/><stop offset="0.75" stop-color="#0d4d85"/><stop offset="1" stop-color="#0b4376"/></linearGradient>
<radialGradient id="lgGlow" gradientUnits="userSpaceOnUse" cx="620" cy="610" r="215" gradientTransform="translate(0 128) scale(1 .79)"><stop offset="0" stop-color="#dcebf7"/><stop offset="0.35" stop-color="#a9cfec" stop-opacity=".97"/><stop offset="0.7" stop-color="#5ea3d8" stop-opacity=".8"/><stop offset="1" stop-color="#2f86c4" stop-opacity="0"/></radialGradient>
<linearGradient id="lgEdge" gradientUnits="userSpaceOnUse" x1="75" y1="0" x2="1170" y2="0"><stop offset="0" stop-color="#072a50" stop-opacity=".35"/><stop offset="0.12" stop-color="#072a50" stop-opacity="0"/><stop offset="0.9" stop-color="#072a50" stop-opacity="0"/><stop offset="1" stop-color="#072a50" stop-opacity=".2"/></linearGradient>
<filter id="lgShadow" x="-20%" y="-20%" width="140%" height="140%" color-interpolation-filters="sRGB"><feGaussianBlur in="SourceAlpha" stdDeviation="3.5"/><feOffset dx="-15" dy="11" result="b"/><feFlood flood-color="#031f40" flood-opacity="0.85"/><feComposite in2="b" operator="in"/><feMerge><feMergeNode/><feMergeNode in="SourceGraphic"/></feMerge></filter>
<clipPath id="lgClipA"><path d="M330 300H910V700L822 750L620 596L418 750L330 700Z"/></clipPath>
<clipPath id="lgClipB"><path d="M216 86C340 118 495 240 616 376L583 424C490 322 345 200 163 198Z"/><path d="M1024 86C900 118 745 240 624 376L657 424C750 322 895 200 1077 198Z"/><path d="M100 232C280 228 470 325 586 430L535 489C430 385 250 300 69 353C74 312 85 268 100 232Z"/><path d="M1140 232C960 228 770 325 654 430L705 489C810 385 990 300 1171 353C1166 312 1155 268 1140 232Z"/><path d="M72 415C240 388 420 430 538 494L506 542C380 480 210 440 78 536C72 498 70 455 72 415Z"/><path d="M1168 415C1000 388 820 430 702 494L734 542C860 480 1030 440 1162 536C1168 498 1170 455 1168 415Z"/><path d="M76 1897 L76 650 C76 643 77 638 80 634 C125 585 215 547 300 550 C370 553 432 578 490 634 L620 560 L750 634 C808 578 870 553 940 550 C1025 547 1115 585 1160 634 C1163 638 1164 643 1164 650 L1170 1897 Z"/><path d="M620 370 L583 424 L535 489 L506 542 L452 590 L470 640 L620 610 L770 640 L788 590 L734 542 L705 489 L657 424 Z"/></clipPath>
</defs>
<g transform="translate(995 1460) scale(0.129032)">
<g fill="url(#lgBlue)">
<path d="M216 86C340 118 495 240 616 376L583 424C490 322 345 200 163 198Z"/>
<path d="M1024 86C900 118 745 240 624 376L657 424C750 322 895 200 1077 198Z"/>
<path d="M100 232C280 228 470 325 586 430L535 489C430 385 250 300 69 353C74 312 85 268 100 232Z"/>
<path d="M1140 232C960 228 770 325 654 430L705 489C810 385 990 300 1171 353C1166 312 1155 268 1140 232Z"/>
<path d="M72 415C240 388 420 430 538 494L506 542C380 480 210 440 78 536C72 498 70 455 72 415Z"/>
<path d="M1168 415C1000 388 820 430 702 494L734 542C860 480 1030 440 1162 536C1168 498 1170 455 1168 415Z"/>
<path d="M76 1897 L76 650 C76 643 77 638 80 634 C125 585 215 547 300 550 C370 553 432 578 490 634 L620 560 L750 634 C808 578 870 553 940 550 C1025 547 1115 585 1160 634 C1163 638 1164 643 1164 650 L1170 1897 Z"/>
<path d="M620 370 L583 424 L535 489 L506 542 L452 590 L470 640 L620 610 L770 640 L788 590 L734 542 L705 489 L657 424 Z" fill="#3f8fcc"/>
</g>
<path d="M76 1897 L76 650 C76 643 77 638 80 634 C125 585 215 547 300 550 C370 553 432 578 490 634 L620 560 L750 634 C808 578 870 553 940 550 C1025 547 1115 585 1160 634 C1163 638 1164 643 1164 650 L1170 1897 Z" fill="url(#lgEdge)"/>
<g clip-path="url(#lgClipA)"><g clip-path="url(#lgClipB)"><ellipse cx="620" cy="580" rx="215" ry="175" fill="url(#lgGlow)"/></g></g>
<path d="M619 452L627 469L645 477L627 485L619 502L611 485L593 477L611 469Z" fill="#fff"/>
<path d="M418 750L620 596L822 750L620 652Z" fill="#fff"/>
<path d="M76 852C130 835 200 805 262 772C200 820 130 862 76 894Z" fill="#0d568f" opacity=".6"/><path d="M1164 852C1110 835 1040 805 978 772C1040 820 1110 862 1164 894Z" fill="#0d568f" opacity=".6"/>
<path d="M76 833C110 826 145 817 172 806C150 822 110 840 76 852Z" fill="#fff"/><path d="M1164 833C1130 826 1095 817 1068 806C1090 822 1130 840 1164 852Z" fill="#fff"/>
<path d="M76 894C180 857 283 805 367 742C300 822 190 876 76 918Z" fill="#fff"/><path d="M1164 894C1060 857 957 805 873 742C940 822 1050 876 1164 918Z" fill="#fff"/>
</g>
<g transform="translate(1033.1 1597.9) scale(0.1656) translate(-387.5 -658.5)" filter="url(#lgShadow)"><use href="#figs" fill="#fff"/></g>
<text x="1009.6" y="1693.3" font-family="Liberation Serif, serif" font-size="14.6" style="font-family:'Liberation Serif',serif;fill:#fff" textLength="130" lengthAdjust="spacingAndGlyphs">ASOCIATIA <tspan font-weight="bold">RIANA</tspan></text>
<text class="b" x="1008.6" y="1702.4" font-size="6.4" style="fill:#d3deea" textLength="132" lengthAdjust="spacingAndGlyphs">pentru dezvoltarea vieții și sprijin familial</text>
</svg>
</body>
</html>
